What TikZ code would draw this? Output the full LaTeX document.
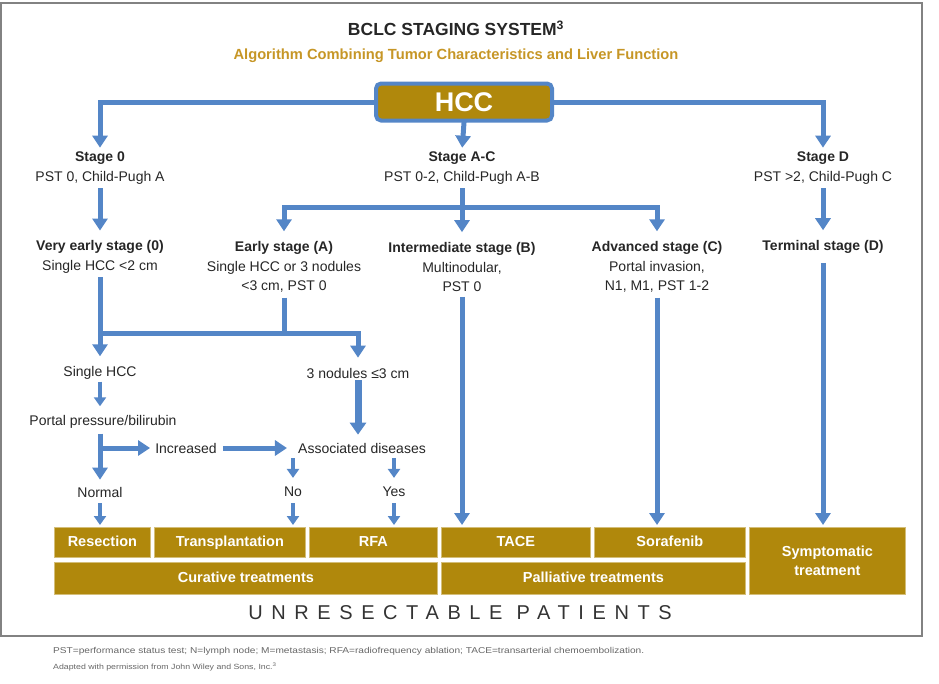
\documentclass[tikz,border=0pt]{standalone}
\usepackage{fontspec}
\setmainfont{Liberation Sans}
\newfontfamily\spacedfont[LetterSpace=43]{Liberation Sans}
\usetikzlibrary{arrows.meta}
\definecolor{bblue}{RGB}{84,134,199}
\definecolor{gold}{RGB}{176,136,12}
\definecolor{subgold}{RGB}{198,150,38}
\definecolor{framegray}{RGB}{130,130,130}
\begin{document}
\begin{tikzpicture}[x=1pt,y=-1pt,
  txt/.style={align=center, font=\fontsize{14}{19.5}\selectfont, inner sep=1pt, text=black!85},
  arr/.style={draw=bblue, line width=5pt, -{Triangle[width=15pt,length=12pt]}},
  thickarr/.style={draw=bblue, line width=7pt, -{Triangle[width=16pt,length=12pt]}},
  sarr/.style={draw=bblue, line width=4.5pt, -{Triangle[width=12pt,length=9pt]}},
  ln/.style={draw=bblue, line width=5pt},
  tbox/.style={fill=gold, draw=gold!55, line width=0.8pt, text=white,
    font=\bfseries\fontsize{14.5}{19}\selectfont, align=center, inner sep=0pt, anchor=north west},
  one/.style={text height=10.5pt, text depth=3pt},
]
\useasboundingbox (0,0) rectangle (939,683);
\draw[framegray, line width=1.2pt] (1,3) rectangle (922,636);

\node[font=\bfseries\fontsize{17.5}{20}\selectfont, text=black!85] (title) at (456,28) {BCLC STAGING SYSTEM\textsuperscript{3}};
\node[font=\bfseries\fontsize{14.7}{17}\selectfont, text=subgold] (subtitle) at (456,56) {Algorithm Combining Tumor Characteristics and Liver Function};

\node[fill=gold, draw=bblue, line width=4pt, rounded corners=5pt, minimum width=176pt, minimum height=37pt,
  text=white, font=\bfseries\fontsize{27}{30}\selectfont, inner sep=0pt] (hcc) at (464,102) {HCC};

\node[txt] (stage0) at (100,168) {\textbf{Stage 0}\\PST 0, Child-Pugh A};
\node[txt] (stageAC) at (462,168) {\textbf{Stage A-C}\\PST 0-2, Child-Pugh A-B};
\node[txt] (stageD) at (823,168) {\textbf{Stage D}\\PST >2, Child-Pugh C};

\node[txt] (vearly) at (100,257) {\textbf{Very early stage (0)}\\Single HCC <2 cm};
\node[txt] (early) at (284,267) {\textbf{Early stage (A)}\\Single HCC or 3 nodules\\<3 cm, PST 0};
\node[txt] (inter) at (462,267) {\textbf{Intermediate stage (B)}\\Multinodular,\\PST 0};
\node[txt] (adv) at (657,267) {\textbf{Advanced stage (C)}\\Portal invasion,\\N1, M1, PST 1-2};
\node[txt] (term) at (823,247) {\textbf{Terminal stage (D)}};

\node[txt] (single) at (100,373) {Single HCC};
\node[txt] (nod3) at (358,373) {3 nodules ≤3 cm};
\node[txt] (portal) at (103,422) {Portal pressure/bilirubin};
\node[txt] (incr) at (186,448) {Increased};
\node[txt] (assoc) at (362,448) {Associated diseases};
\node[txt] (normal) at (100,492) {Normal};
\node[txt] (no) at (293,492) {No};
\node[txt] (yes) at (394,492) {Yes};

\node[tbox, one, minimum width=96pt, minimum height=30pt] (resec) at (54,527) {Resection};
\node[tbox, one, minimum width=151pt, minimum height=30pt] (transp) at (154,527) {Transplantation};
\node[tbox, one, minimum width=128pt, minimum height=30pt] (rfa) at (309,527) {RFA};
\node[tbox, one, minimum width=149pt, minimum height=30pt] (tace) at (441,527) {TACE};
\node[tbox, one, minimum width=151pt, minimum height=30pt] (sora) at (594,527) {Sorafenib};
\node[tbox, minimum width=156pt, minimum height=67pt] (symp) at (749,527) {Symptomatic\\treatment};
\node[tbox, one, minimum width=383pt, minimum height=32pt] (cur) at (54,562) {Curative treatments};
\node[tbox, one, minimum width=304pt, minimum height=32pt] (pal) at (441,562) {Palliative treatments};

\node[font=\spacedfont\fontsize{20}{24}\selectfont, text=black!80] (unres) at (460,613) {UNRESECTABLE PATIENTS};

\node[anchor=west, text=black!60, inner sep=0pt] (foot1) at (53,651) {\scalebox{1.19}[1]{\fontsize{8.5}{10}\selectfont PST=performance status test; N=lymph node; M=metastasis; RFA=radiofrequency ablation; TACE=transarterial chemoembolization.}};
\node[anchor=west, text=black!60, inner sep=0pt] (foot2) at (53,667) {\scalebox{1.17}[1]{\fontsize{7.5}{9}\selectfont Adapted with permission from John Wiley and Sons, Inc.\textsuperscript{3}}};

% connectors
\draw[arr, shorten >=3pt] (hcc.west) -| (stage0.north);
\draw[arr, shorten >=3pt] (hcc.east) -| (stageD.north);
\draw[arr, shorten >=3pt, shorten <=-2pt] (hcc.south) -- (stageAC.north);

\draw[arr, shorten <=3pt, shorten >=9pt] (stage0.south) -- (vearly.north);
\draw[arr, shorten <=3pt, shorten >=9pt] (stageAC.south) -- (inter.north);
\draw[arr, shorten <=3pt, shorten >=9pt] (stageD.south) -- (term.north);
\coordinate (acbr) at (462,207);
\draw[arr, shorten >=9pt] (acbr) -| (early.north);
\draw[arr, shorten >=9pt] (acbr) -| (adv.north);

\draw[arr, shorten <=3pt, shorten >=9pt] (vearly.south) -- (single.north);
\coordinate (vbr) at (100,333);
\draw[arr, shorten >=9pt] (vbr) -| (nod3.north);
\draw[ln, shorten <=4pt] (early.south) -- (early.south |- vbr);

\draw[sarr, shorten <=1pt, shorten >=8pt] (single.south) -- (single.south |- portal.north);
\draw[thickarr, shorten <=1pt, shorten >=7pt] (nod3.south) -- (nod3.south |- assoc.north);
\draw[arr, shorten <=4pt, shorten >=6pt] (portal.south -| normal.north) -- (normal.north);
\coordinate (pbr) at (100,448);
\draw[arr, shorten >=4pt] (pbr) -- (incr.west);
\draw[arr, shorten <=5pt, shorten >=10pt] (incr.east) -- (assoc.west);
\draw[sarr, shorten <=4pt, shorten >=8pt] (no.north |- assoc.south) -- (no.north);
\draw[sarr, shorten <=4pt, shorten >=8pt] (yes.north |- assoc.south) -- (yes.north);

\draw[sarr, shorten <=5pt, shorten >=2pt] (normal.south) -- (normal.south |- resec.north);
\draw[sarr, shorten <=5pt, shorten >=2pt] (no.south) -- (no.south |- transp.north);
\draw[sarr, shorten <=5pt, shorten >=2pt] (yes.south) -- (yes.south |- rfa.north);
\draw[arr, shorten <=4pt, shorten >=2pt] (inter.south) -- (inter.south |- tace.north);
\draw[arr, shorten <=4pt, shorten >=2pt] (adv.south) -- (adv.south |- sora.north);
\draw[arr, shorten <=8pt, shorten >=2pt] (term.south) -- (term.south |- symp.north);
\end{tikzpicture}
\end{document}
